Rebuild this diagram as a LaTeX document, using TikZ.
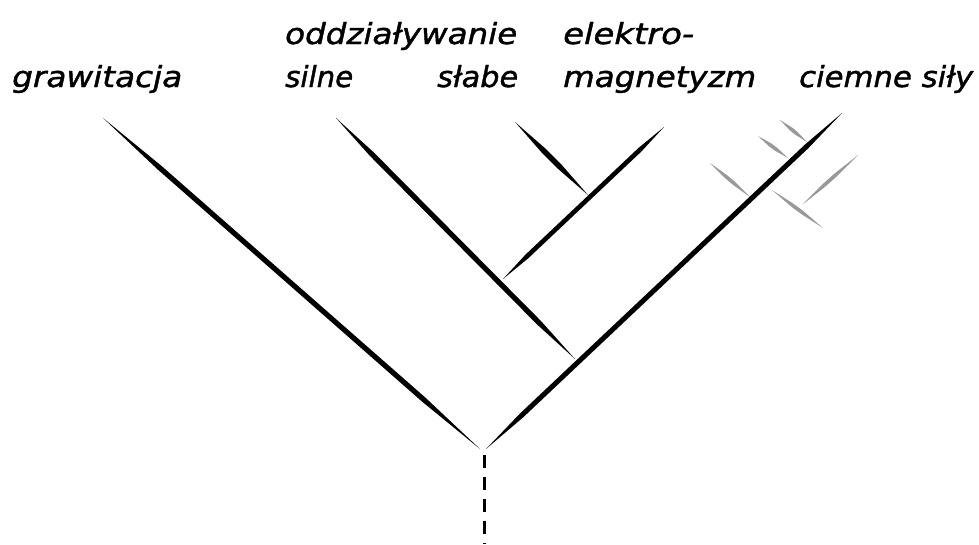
\documentclass[tikz,border=0pt]{standalone}
\usepackage{fontspec}
\setmainfont{DejaVu Sans}[ItalicFont={DejaVu Sans Oblique},ItalicFeatures={FakeBold=1.3}]
\usetikzlibrary{calc}
% brush-like stroke: colour, start, end, half width, taper fraction
\newcommand\brushline[5]{%
  \fill[#1] (#2) -- ($(#2)!#5!(#3)!#4!90:(#3)$) -- ($(#3)!#5!(#2)!#4!-90:(#2)$) -- (#3)
    -- ($(#3)!#5!(#2)!#4!90:(#2)$) -- ($(#2)!#5!(#3)!#4!-90:(#3)$) -- cycle;}
\tikzset{
  lbl/.style={anchor=base west, inner sep=0pt, font=\fontsize{29}{31}\selectfont\itshape},
  stem/.style={line width=3pt, dash pattern=on 13pt off 9pt},
}
\newcommand\lab[2]{\resizebox{#1pt}{\height}{#2}}
\begin{document}
\begin{tikzpicture}[x=1pt,y=-1pt]
\useasboundingbox (0,0) rectangle (979,544);
% labels
\node[lbl] (grav) at (12,87) {\lab{170}{grawitacja}};
\node[lbl] (odd) at (285,44) {\lab{232}{oddziaływanie}};
\node[lbl] (sil) at (285,87) {\lab{68}{silne}};
\node[lbl] (sla) at (437,87) {\lab{81}{słabe}};
\node[lbl] (ele) at (563,44) {\lab{131}{elektro-}};
\node[lbl] (mag) at (563,87) {\lab{193}{magnetyzm}};
\node[lbl] (cie) at (799,87) {\lab{174}{ciemne siły}};
% branch points
\coordinate (gT) at (103,118);
\coordinate (gB) at (480,449);
\coordinate (rT) at (842,113);
\coordinate (rB) at (486,449);
\coordinate (sT) at (336,118);
\coordinate (sB) at (575,359);
\coordinate (eT) at (664,127);
\coordinate (eB) at (503,279);
\coordinate (wT) at (515,122);
\coordinate (wB) at (588,195);
\coordinate (root) at (484,455);
\coordinate (base) at (484,544);
% grey side branches
\coordinate (g1a) at (780,120); \coordinate (g1b) at (807,142);
\coordinate (g2a) at (758,136); \coordinate (g2b) at (788,158);
\coordinate (g3a) at (710,163); \coordinate (g3b) at (750,197);
\coordinate (g4a) at (772,190); \coordinate (g4b) at (823,228);
\coordinate (g5a) at (858,155); \coordinate (g5b) at (802,205);
\brushline{gray!80}{g1a}{g1b}{1.8pt}{0.4}
\brushline{gray!80}{g2a}{g2b}{1.8pt}{0.4}
\brushline{gray!80}{g3a}{g3b}{1.8pt}{0.4}
\brushline{gray!80}{g4a}{g4b}{1.8pt}{0.4}
\brushline{gray!80}{g5a}{g5b}{1.8pt}{0.4}
% black branches
\brushline{black}{gT}{gB}{2.6pt}{0.15}
\brushline{black}{rT}{rB}{2.5pt}{0.1}
\brushline{black}{sT}{sB}{2.6pt}{0.15}
\brushline{black}{eT}{eB}{2.3pt}{0.15}
\brushline{black}{wT}{wB}{2.8pt}{0.4}
% dashed stem
\draw[stem] (root) -- (base);
\end{tikzpicture}
\end{document}
